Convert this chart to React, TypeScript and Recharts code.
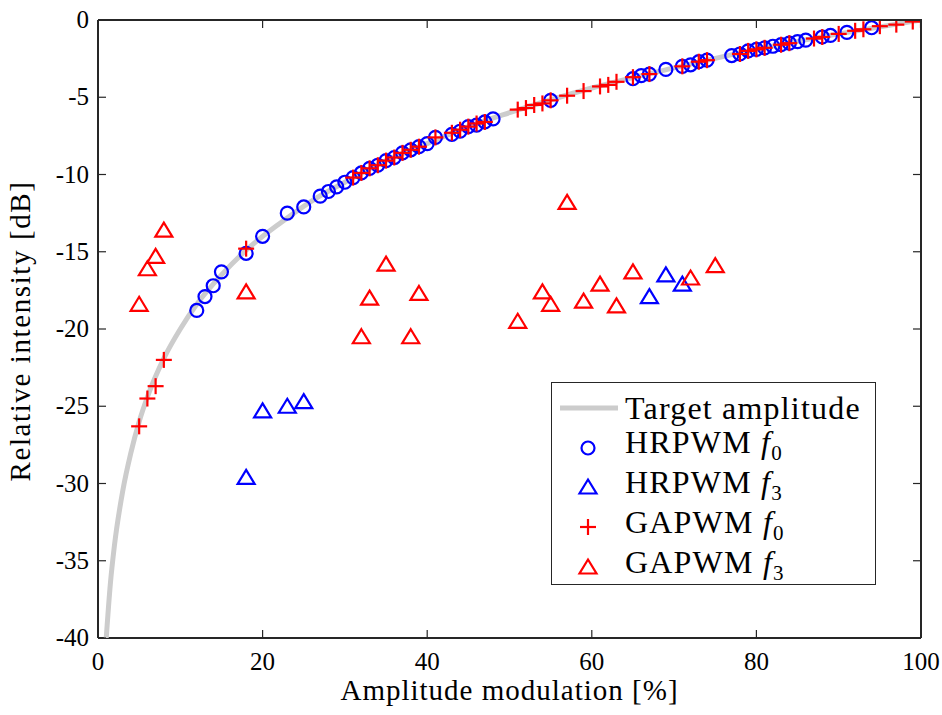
import { ScatterChart, Scatter, XAxis, YAxis } from 'recharts';

// target amplitude curve
const targetX = [1, 1.5, 2, 3, 4, 5, 6, 8, 10, 12, 15, 18, 22, 26, 30, 35, 40, 45, 50, 60, 70, 80, 90, 100];
const targetY = [-40, -36.5, -34, -30.5, -28, -26, -24.4, -21.9, -20, -18.4, -16.5, -14.9, -13.2, -11.7, -10.5, -9.1, -8, -6.9, -6, -4.4, -3.1, -1.9, -0.9, 0];

// HRPWM f0
const hrF0X = [12, 13, 14, 15, 18, 20, 23, 25, 27, 28, 29, 30, 31, 32, 33, 34, 35, 36, 37, 38, 39, 40, 41, 43, 44, 45, 46, 47, 48, 55, 65, 66, 67, 69, 71, 72, 73, 74, 77, 78, 79, 80, 81, 82, 83, 84, 85, 86, 88, 89, 91, 94];
const hrF0Y = [-18.8, -17.9, -17.2, -16.3, -15.1, -14.0, -12.5, -12.1, -11.4, -11.1, -10.8, -10.5, -10.2, -9.9, -9.6, -9.4, -9.1, -8.9, -8.6, -8.4, -8.2, -8.0, -7.6, -7.4, -7.2, -6.9, -6.8, -6.6, -6.4, -5.2, -3.8, -3.6, -3.5, -3.2, -3.0, -2.9, -2.7, -2.6, -2.3, -2.2, -2.0, -1.9, -1.8, -1.7, -1.6, -1.5, -1.4, -1.3, -1.1, -1.0, -0.8, -0.5];

// HRPWM f3
const hrF3X = [18, 20, 23, 25, 67, 69, 71];
const hrF3Y = [-29.6, -25.3, -25.0, -24.7, -17.9, -16.5, -17.1];

// GAPWM f0
const gaF0X = [5, 6, 7, 8, 18, 31, 32, 33, 34, 35, 36, 37, 38, 39, 41, 43, 44, 45, 46, 47, 51, 52, 53, 54, 55, 57, 59, 61, 62, 63, 65, 67, 71, 73, 74, 78, 79, 80, 81, 83, 84, 87, 88, 90, 92, 93, 95, 97, 99, 100];
const gaF0Y = [-26.3, -24.5, -23.7, -22.0, -14.8, -10.2, -9.9, -9.6, -9.4, -9.1, -8.9, -8.6, -8.4, -8.2, -7.6, -7.3, -7.1, -6.9, -6.7, -6.6, -5.8, -5.7, -5.5, -5.4, -5.2, -4.9, -4.6, -4.3, -4.2, -4.0, -3.7, -3.5, -3.0, -2.7, -2.6, -2.2, -2.0, -1.9, -1.8, -1.6, -1.5, -1.2, -1.1, -0.9, -0.7, -0.6, -0.4, -0.3, -0.1, 0];

// GAPWM f3
const gaF3X = [5, 6, 7, 8, 18, 32, 33, 35, 38, 39, 51, 54, 55, 57, 59, 61, 63, 65, 72, 75];
const gaF3Y = [-18.4, -16.1, -15.3, -13.6, -17.6, -20.5, -18.0, -15.8, -20.5, -17.7, -19.5, -17.6, -18.4, -11.8, -18.2, -17.1, -18.5, -16.3, -16.7, -15.9];

const xTicks = [0, 20, 40, 60, 80, 100];
const yTicks = [-40, -35, -30, -25, -20, -15, -10, -5, 0];

const zip = (xs: number[], ys: number[]) => xs.map((x, i) => ({ x, y: ys[i] }));

const BLUE = '#0000ff';
const RED = '#ff0000';
const GRAY = '#cccccc';
const AXIS = '#262626';
const FONT = "'Liberation Serif', serif";

// plot box (px)
const W = 942;
const H = 715;
const M = { top: 20, right: 21, left: 0, bottom: 0 };
const Y_AXIS_W = 98;
const X_AXIS_H = 77;
const PLOT_L = M.left + Y_AXIS_W;
const PLOT_R = W - M.right;
const PLOT_T = M.top;
const PLOT_B = H - M.bottom - X_AXIS_H;

const Circle = (p: any) => (
    <circle cx={p.cx} cy={p.cy} r={6.5} fill="none" stroke={BLUE} strokeWidth={2.2} />
);

const triangle = (c: string) => (p: any) => (
    <path
        d={`M${p.cx},${p.cy - 7.5} L${p.cx + 8.5},${p.cy + 6.5} L${p.cx - 8.5},${p.cy + 6.5} Z`}
        fill="none"
        stroke={c}
        strokeWidth={2.2}
    />
);

const Plus = (p: any) => (
    <g stroke={RED} strokeWidth={2.2}>
        <line x1={p.cx - 8} x2={p.cx + 8} y1={p.cy} y2={p.cy} />
        <line x1={p.cx} x2={p.cx} y1={p.cy - 8} y2={p.cy + 8} />
    </g>
);

const XTick = (p: any) => (
    <g>
        <line x1={p.x} x2={p.x} y1={p.y} y2={p.y - 8} stroke={AXIS} strokeWidth={1.2} />
        <line x1={p.x} x2={p.x} y1={PLOT_T} y2={PLOT_T + 8} stroke={AXIS} strokeWidth={1.2} />
        <text x={p.x} y={p.y + 32} textAnchor="middle" style={{ fontFamily: FONT }} fontSize={25} fill="#000">
            {p.payload.value}
        </text>
    </g>
);

const YTick = (p: any) => (
    <g>
        <line x1={p.x} x2={p.x + 8} y1={p.y} y2={p.y} stroke={AXIS} strokeWidth={1.2} />
        <line x1={PLOT_R} x2={PLOT_R - 8} y1={p.y} y2={p.y} stroke={AXIS} strokeWidth={1.2} />
        <text x={p.x - 9} y={p.y + 8} textAnchor="end" style={{ fontFamily: FONT }} fontSize={25} fill="#000">
            {p.payload.value}
        </text>
    </g>
);

const Nothing = () => <g />;

const Sub = ({ n }: { n: string }) => (
    <span>
        <i>f</i>
        <sub style={{ fontSize: 21, verticalAlign: '-7px' }}>{n}</sub>
    </span>
);

const legendRows = [
    { label: 'Target amplitude', kind: 'line' },
    { label: 'HRPWM', sub: '0', kind: 'circle' },
    { label: 'HRPWM', sub: '3', kind: 'btri' },
    { label: 'GAPWM', sub: '0', kind: 'plus' },
    { label: 'GAPWM', sub: '3', kind: 'rtri' },
];

function LegendIcon({ kind }: { kind: string }) {
    return (
        <svg width={62} height={30} style={{ display: 'block' }}>
            {kind === 'line' && <line x1={2} x2={60} y1={15} y2={15} stroke={GRAY} strokeWidth={5} />}
            {kind === 'circle' && <circle cx={30} cy={15} r={6.5} fill="none" stroke={BLUE} strokeWidth={2.2} />}
            {kind === 'btri' && <path d="M30,7.5 L38.5,21.5 L21.5,21.5 Z" fill="none" stroke={BLUE} strokeWidth={2.2} />}
            {kind === 'rtri' && <path d="M30,7.5 L38.5,21.5 L21.5,21.5 Z" fill="none" stroke={RED} strokeWidth={2.2} />}
            {kind === 'plus' && (
                <g stroke={RED} strokeWidth={2.2}>
                    <line x1={22} x2={38} y1={15} y2={15} />
                    <line x1={30} x2={30} y1={7} y2={23} />
                </g>
            )}
        </svg>
    );
}

// x-axis title plus the closing top/right frame lines
const XTitle = () => (
    <g>
        <polyline
            points={`${PLOT_L},${PLOT_T} ${PLOT_R},${PLOT_T} ${PLOT_R},${PLOT_B}`}
            fill="none"
            stroke={AXIS}
            strokeWidth={2}
        />
        <text x={(PLOT_L + PLOT_R) / 2} y={700} textAnchor="middle" style={{ fontFamily: FONT }} fontSize={29} letterSpacing={1} fill="#000">
            Amplitude modulation [%]
        </text>
    </g>
);

export default function App() {
    return (
        <div style={{ position: 'absolute', left: 0, top: 0, width: W, height: H, background: '#fff', fontFamily: FONT }}>
            <ScatterChart width={W} height={H} margin={M}>
                <XAxis
                    xAxisId="b"
                    type="number"
                    dataKey="x"
                    domain={[0, 100]}
                    ticks={xTicks}
                    allowDataOverflow
                    height={X_AXIS_H}
                    tickSize={0}
                    tickMargin={0}
                    tick={<XTick />}
                    axisLine={{ stroke: AXIS, strokeWidth: 2 }}
                    label={{ content: XTitle }}
                />
                <YAxis
                    yAxisId="l"
                    type="number"
                    dataKey="y"
                    domain={[-40, 0]}
                    ticks={yTicks}
                    allowDataOverflow
                    width={Y_AXIS_W}
                    tickSize={0}
                    tickMargin={0}
                    tick={<YTick />}
                    axisLine={{ stroke: AXIS, strokeWidth: 2 }}
                    label={{
                        content: () => (
                            <text
                                x={30}
                                y={331}
                                transform="rotate(-90 30 331)"
                                textAnchor="middle"
                                style={{ fontFamily: FONT }}
                                fontSize={29}
                                letterSpacing={1.6}
                                fill="#000"
                            >
                                Relative intensity [dB]
                            </text>
                        ),
                    }}
                />
                <Scatter
                    xAxisId="b"
                    yAxisId="l"
                    data={zip(targetX, targetY)}
                    line={{ stroke: GRAY, strokeWidth: 5 }}
                    lineJointType="monotoneX"
                    shape={Nothing}
                    isAnimationActive={false}
                />
                <Scatter xAxisId="b" yAxisId="l" data={zip(hrF0X, hrF0Y)} shape={Circle} isAnimationActive={false} />
                <Scatter xAxisId="b" yAxisId="l" data={zip(hrF3X, hrF3Y)} shape={triangle(BLUE)} isAnimationActive={false} />
                <Scatter xAxisId="b" yAxisId="l" data={zip(gaF0X, gaF0Y)} shape={Plus} isAnimationActive={false} />
                <Scatter xAxisId="b" yAxisId="l" data={zip(gaF3X, gaF3Y)} shape={triangle(RED)} isAnimationActive={false} />
            </ScatterChart>

            {/* top and right frame lines, drawn over the chart */}
            <div
                style={{
                    position: 'absolute',
                    left: PLOT_L,
                    top: PLOT_T - 1,
                    width: PLOT_R - PLOT_L + 1,
                    height: PLOT_B - PLOT_T + 1,
                    borderTop: `2px solid ${AXIS}`,
                    borderRight: `2px solid ${AXIS}`,
                    boxSizing: 'border-box',
                    zIndex: 5,
                    pointerEvents: 'none',
                }}
            />

            {/* legend */}
            <div
                style={{
                    position: 'absolute',
                    left: 551,
                    top: 382,
                    width: 325,
                    height: 203,
                    border: `1px solid ${AXIS}`,
                    background: '#fff',
                    fontSize: 32,
                    letterSpacing: 1.2,
                    color: '#000',
                    paddingTop: 5,
                    boxSizing: 'border-box',
                    zIndex: 6,
                }}
            >
                {legendRows.map((r, i) => (
                    <div key={i} style={{ display: 'flex', alignItems: 'center', height: 39.8, marginLeft: 6 }}>
                        <LegendIcon kind={r.kind} />
                        <span style={{ marginLeft: 5, whiteSpace: 'nowrap', lineHeight: '32px' }}>
                            {r.label}
                            {r.sub && (
                                <>
                                    {' '}
                                    <Sub n={r.sub} />
                                </>
                            )}
                        </span>
                    </div>
                ))}
            </div>
        </div>
    );
}
